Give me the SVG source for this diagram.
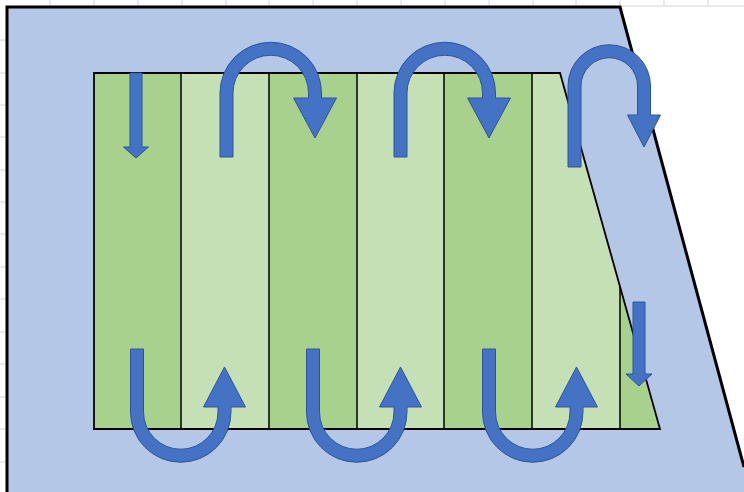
<svg xmlns="http://www.w3.org/2000/svg" width="744" height="492" viewBox="0 0 744 492">
  <style>
    .tick { stroke: #d4d4d4; stroke-width: 1; }
    .edge { fill: none; stroke: #000; stroke-width: 3; stroke-linejoin: miter; }
    .dark { fill: #A9D18E; }
    .light { fill: #C5E0B4; }
    .divider { stroke: #000; stroke-width: 1.5; }
    .arrow { fill: #4472C4; stroke: #2F5597; stroke-width: 1; stroke-linejoin: miter; }
  </style>
  <defs>
    <clipPath id="cropClip">
      <polygon points="94,73 560,73 660,429 94,429"/>
    </clipPath>
  </defs>

  <rect width="744" height="492" fill="#ffffff"/>

  <!-- sheet grid ticks -->
  <g id="grid">
    <line class="tick" x1="620" y1="6" x2="744" y2="6"/>
    <g class="tick">
      <line x1="50" y1="0" x2="50" y2="6"/>
      <line x1="94" y1="0" x2="94" y2="6"/>
      <line x1="138" y1="0" x2="138" y2="6"/>
      <line x1="182" y1="0" x2="182" y2="6"/>
      <line x1="226" y1="0" x2="226" y2="6"/>
      <line x1="269" y1="0" x2="269" y2="6"/>
      <line x1="313" y1="0" x2="313" y2="6"/>
      <line x1="357" y1="0" x2="357" y2="6"/>
      <line x1="401" y1="0" x2="401" y2="6"/>
      <line x1="445" y1="0" x2="445" y2="6"/>
      <line x1="489" y1="0" x2="489" y2="6"/>
      <line x1="533" y1="0" x2="533" y2="6"/>
      <line x1="576" y1="0" x2="576" y2="6"/>
      <line x1="620" y1="0" x2="620" y2="6"/>
      <line x1="664" y1="0" x2="664" y2="6"/>
      <line x1="708" y1="0" x2="708" y2="6"/>
      <line x1="0" y1="40" x2="6" y2="40"/>
      <line x1="0" y1="73" x2="6" y2="73"/>
      <line x1="0" y1="105" x2="6" y2="105"/>
      <line x1="0" y1="137" x2="6" y2="137"/>
      <line x1="0" y1="170" x2="6" y2="170"/>
      <line x1="0" y1="202" x2="6" y2="202"/>
      <line x1="0" y1="234" x2="6" y2="234"/>
      <line x1="0" y1="267" x2="6" y2="267"/>
      <line x1="0" y1="299" x2="6" y2="299"/>
      <line x1="0" y1="332" x2="6" y2="332"/>
      <line x1="0" y1="364" x2="6" y2="364"/>
      <line x1="0" y1="397" x2="6" y2="397"/>
      <line x1="0" y1="429" x2="6" y2="429"/>
      <line x1="0" y1="462" x2="6" y2="462"/>
    </g>
  </g>

  <!-- field boundary -->
  <g id="field">
    <polygon points="7,7 620,7 744,467 744,492 7,492" fill="#B4C7E7"/>
    <polyline class="edge" points="7,492 7,7 620,7 744,467"/>
  </g>

  <!-- planted strips -->
  <g id="strips">
    <g clip-path="url(#cropClip)">
      <rect class="dark" x="94" y="73" width="87" height="356"/>
      <rect class="light" x="181" y="73" width="88" height="356"/>
      <rect class="dark" x="269" y="73" width="88" height="356"/>
      <rect class="light" x="357" y="73" width="87" height="356"/>
      <rect class="dark" x="444" y="73" width="88" height="356"/>
      <rect class="light" x="532" y="73" width="88" height="356"/>
      <rect class="dark" x="620" y="73" width="45" height="356"/>
      <g class="divider">
        <line x1="181" y1="73" x2="181" y2="429"/>
        <line x1="269" y1="73" x2="269" y2="429"/>
        <line x1="357" y1="73" x2="357" y2="429"/>
        <line x1="444" y1="73" x2="444" y2="429"/>
        <line x1="532" y1="73" x2="532" y2="429"/>
        <line x1="620" y1="73" x2="620" y2="429"/>
      </g>
    </g>
    <polygon points="94,73 560,73 660,429 94,429" fill="none" stroke="#000" stroke-width="1.8"/>
  </g>

  <!-- travel path arrows -->
  <g id="connectors">
    <!-- first pass down -->
    <path class="arrow" d="M130,73 L142,73 L142,147 L148.5,147 L136,158 L123.5,147 L130,147 Z"/>
    <!-- headland turns at the top -->
    <path class="arrow" d="M220,157 L220,93 A50.75,50.75 0 0 1 321.5,93 L321.5,98 L336.5,98 L315,138 L293.5,98 L308.5,98 L308.5,93 A37.75,37.75 0 0 0 233,93 L233,157 Z"/>
    <path class="arrow" d="M394,157 L394,93 A50.75,50.75 0 0 1 495.5,93 L495.5,98 L510.5,98 L489,138 L467.5,98 L482.5,98 L482.5,93 A37.75,37.75 0 0 0 407,93 L407,157 Z"/>
    <path class="arrow" d="M568,167 L568,86 A41.25,41.25 0 0 1 650.5,86 L650.5,115 L660.5,115 L644,147 L627.5,115 L637.5,115 L637.5,86 A28.25,28.25 0 0 0 581,86 L581,167 Z"/>
    <!-- headland turns at the bottom -->
    <path class="arrow" d="M130.5,349 L130.5,412 A50.25,50.25 0 0 0 231,412 L231,407 L245.5,407 L224.5,367 L203.5,407 L218,407 L218,412 A37.25,37.25 0 0 1 143.5,412 L143.5,349 Z"/>
    <path class="arrow" d="M306.5,349 L306.5,412 A50.25,50.25 0 0 0 407,412 L407,407 L421.5,407 L400.5,367 L379.5,407 L394,407 L394,412 A37.25,37.25 0 0 1 319.5,412 L319.5,349 Z"/>
    <path class="arrow" d="M482.5,349 L482.5,412 A50.25,50.25 0 0 0 583,412 L583,407 L597.5,407 L576.5,367 L555.5,407 L570,407 L570,412 A37.25,37.25 0 0 1 495.5,412 L495.5,349 Z"/>
    <!-- last pass down -->
    <path class="arrow" d="M633,302 L645,302 L645,374 L652,374 L639,386 L626,374 L633,374 Z"/>
  </g>
</svg>
